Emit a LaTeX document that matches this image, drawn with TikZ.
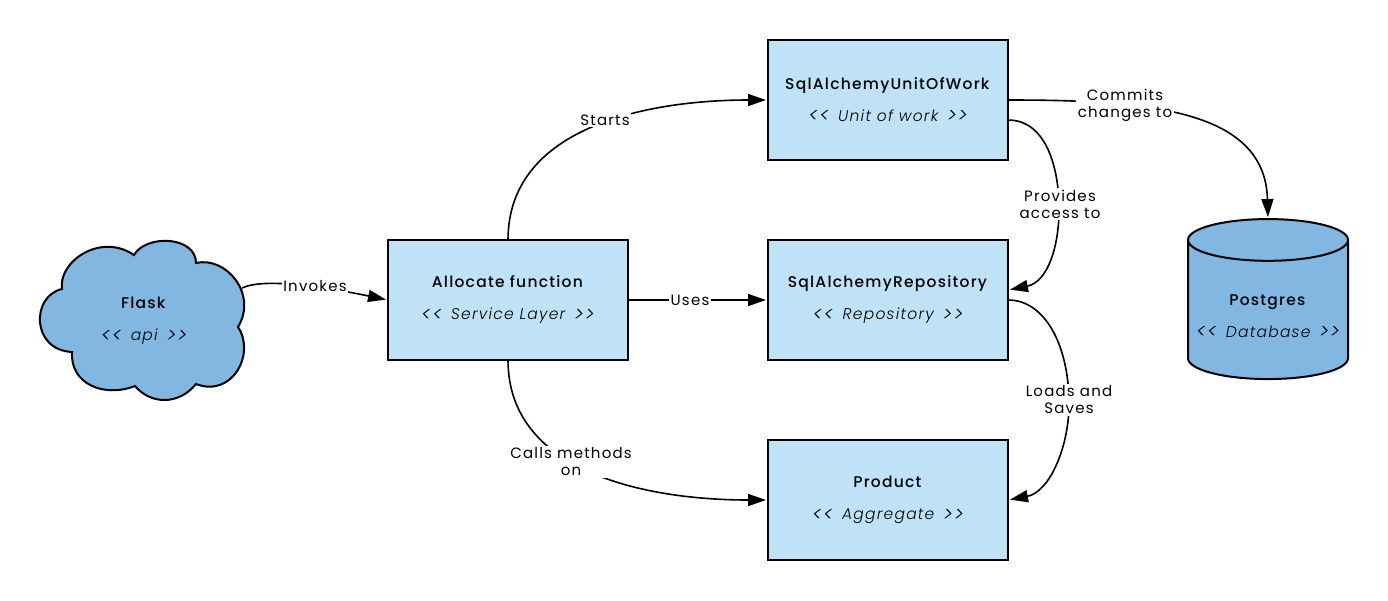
\documentclass[tikz,border=0pt]{standalone}
\usepackage{fontspec}
\setmainfont{Poppins}[LetterSpace=8,BoldFont={Poppins Medium},ItalicFont={Poppins Light Italic}]
\usetikzlibrary{positioning,arrows.meta,shapes.geometric}
\definecolor{boxblue}{HTML}{BFE2F6}
\definecolor{darkblue}{HTML}{82B7E2}
\newcommand{\stereo}[1]{{\itshape\raisebox{-1.5pt}{\fontsize{20}{17}\selectfont <\kern1pt<}\kern3pt{} #1 \kern3pt\raisebox{-1.5pt}{\fontsize{20}{17}\selectfont >\kern1pt>}}}
\tikzset{
  comp/.style={rectangle,draw=black,fill=boxblue,line width=2pt,minimum width=240pt,minimum height=120pt,
    outer sep=0pt,inner sep=0pt,align=center,font=\fontsize{15.5}{17}\selectfont},
  db/.style={cylinder,shape border rotate=90,aspect=0.29,draw=black,fill=darkblue,line width=2pt,
    minimum width=160pt,minimum height=160pt,outer sep=0pt,inner sep=0pt,align=center,font=\fontsize{15.5}{17}\selectfont},
  lbl/.style={fill=white,inner sep=1.5pt,align=center,font=\fontsize{15}{17}\selectfont},
  flow/.style={-{Triangle[length=18pt,width=12pt]},line width=1.6pt,shorten >=2pt},
}
\begin{document}
\begin{tikzpicture}[x=1pt,y=-1pt,node distance=80pt and 140pt]
  \useasboundingbox (0,0) rectangle (1388,600);
  % boxes
  \node[comp] (repo) at (888,300) {\textbf{SqlAlchemyRepository}\\[15pt]\stereo{Repository}};
  \node[comp,above=of repo] (uow) {\textbf{SqlAlchemyUnitOfWork}\\[15pt]\stereo{Unit of work}};
  \node[comp,below=of repo] (product) {\textbf{Product}\\[15pt]\stereo{Aggregate}};
  \node[comp,left=of repo] (alloc) {\textbf{Allocate function}\\[15pt]\stereo{Service Layer}};
  \node[db,right=180pt of repo,yshift=-10pt] (pg) {\rule{0pt}{24pt}\textbf{Postgres}\\[15pt]\stereo{Database}};
  % cloud
  \draw[fill=darkblue,line width=2pt] (62,289)
    .. controls (58,262) and (100,232) .. (134,255)
    .. controls (146,234) and (196,236) .. (196,263)
    .. controls (226,256) and (258,294) .. (238,327)
    .. controls (256,354) and (232,398) .. (196,384)
    .. controls (178,406) and (150,404) .. (135,386)
    .. controls (104,398) and (70,384) .. (72,352)
    .. controls (31,350) and (31,296) .. (62,289) -- cycle;
  \node[align=center,font=\fontsize{15.5}{17}\selectfont] (flask) at (144,321) {\textbf{Flask}\\[15pt]\stereo{api}};
  \coordinate (flaskout) at (242,288);
  % connectors
  \draw[flow] (flaskout) .. controls (265,277) and (330,288) .. (alloc.west);
  \node[lbl] (invokes) at (315,286) {Invokes};
  \draw[flow] (alloc.east) -- (repo.west);
  \node[lbl] (uses) at (690,300) {Uses};
  \draw[flow] (alloc.north) to[out=90,in=180] (uow.west);
  \node[lbl] (starts) at (605,120) {Starts};
  \draw[flow] (alloc.south) to[out=-90,in=180] (product.west);
  \node[lbl] (calls) at (571,462) {Calls methods\\on};
  \draw[flow] (uow.east) .. controls (1150,100) and (1265,110) .. (pg.north);
  \node[lbl] (commits) at (1125,105) {Commits\\changes to};
  \draw[flow] ([yshift=-20pt]uow.east) .. controls (1045,120) and (1058,165) .. (1059,204)
    .. controls (1060,245) and (1048,282) .. ([yshift=10pt]repo.east);
  \node[lbl] (provides) at (1060,204) {Provides\\access to};
  \draw[flow] (repo.east) .. controls (1045,300) and (1068,345) .. (1069,400)
    .. controls (1070,445) and (1050,492) .. (product.east);
  \node[lbl] (loads) at (1069,400) {Loads and\\Saves};
\end{tikzpicture}
\end{document}
